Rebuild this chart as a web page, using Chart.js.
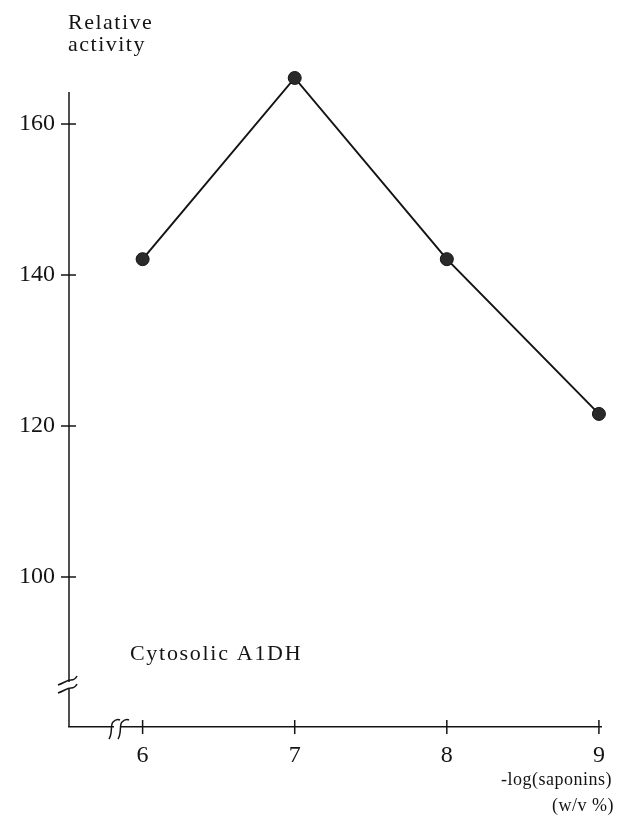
<!DOCTYPE html>
<html>
<head>
<meta charset="utf-8">
<script src="https://cdn.jsdelivr.net/npm/chart.js@4"></script>
<style>
  html, body { margin: 0; padding: 0; background: #fff; }
  #wrap { width: 619px; height: 827px; }
</style>
</head>
<body>
<div id="wrap"><canvas id="c" width="619" height="827"></canvas></div>
<script>
const concentrations = [6, 7, 8, 9];
const relativeActivity = [142.1, 166.1, 142.1, 121.6];
const yTickValues = [100, 120, 140, 160];
const xTickValues = [6, 7, 8, 9];
const yTitleLines = ['Relative', 'activity'];
const xTitleLines = ['-log(saponins)', '(w/v %)'];
const panelLabel = 'Cytosolic A1DH';

const Y_AXIS_TOP = 164.24; // where the drawn y-axis line ends
const INK = '#141414';
const SERIF = '"Liberation Serif", "DejaVu Serif", serif';

const decor = {
  id: 'decor',
  beforeDatasetsDraw(chart) {
    const ctx = chart.ctx;
    const xs = chart.scales.x, ys = chart.scales.y;
    const ax = ys.right, ay = xs.top;
    ctx.save();
    ctx.strokeStyle = INK;
    ctx.lineWidth = 1.5;
    ctx.beginPath();
    ctx.moveTo(ax, ys.getPixelForValue(Y_AXIS_TOP));
    ctx.lineTo(ax, ay);
    ctx.stroke();
    ctx.restore();
  },
  afterDraw(chart) {
    const ctx = chart.ctx;
    const xs = chart.scales.x, ys = chart.scales.y;
    const ax = ys.right, ay = xs.top;
    const topY = ys.getPixelForValue(Y_AXIS_TOP);
    ctx.save();
    ctx.strokeStyle = INK;
    ctx.lineWidth = 1.5;
    // tick marks crossing axes
    yTickValues.forEach(v => {
      const py = ys.getPixelForValue(v);
      ctx.beginPath(); ctx.moveTo(ax - 8, py); ctx.lineTo(ax + 7, py); ctx.stroke();
    });
    xTickValues.forEach(v => {
      const px = xs.getPixelForValue(v);
      ctx.beginPath(); ctx.moveTo(px, ay - 7); ctx.lineTo(px, ay + 7); ctx.stroke();
    });
    // axis breaks: erase gaps
    ctx.fillStyle = '#fff';
    const by = ay - 42;
    ctx.fillRect(ax - 3, by - 3, 6, 7);
    const bx = ax + 47;
    ctx.fillRect(bx - 2, ay - 3, 6, 6);
    // y-axis break strokes
    [by - 4, by + 4].forEach(yy => {
      ctx.beginPath();
      ctx.moveTo(ax - 11, yy + 4);
      ctx.bezierCurveTo(ax - 5, yy + 2, ax - 2, yy - 1, ax + 2, yy - 1);
      ctx.bezierCurveTo(ax + 5, yy - 1, ax + 7, yy - 3, ax + 8, yy - 5);
      ctx.stroke();
    });
    // x-axis break strokes
    [bx - 4, bx + 5].forEach(xx => {
      ctx.beginPath();
      ctx.moveTo(xx - 3, ay + 12);
      ctx.bezierCurveTo(xx + 1, ay + 6, xx - 2, ay - 2, xx + 1, ay - 5);
      ctx.bezierCurveTo(xx + 3, ay - 7, xx + 6, ay - 8, xx + 8, ay - 7);
      ctx.stroke();
    });
    // texts
    ctx.fillStyle = INK;
    ctx.font = '22px ' + SERIF;
    ctx.textBaseline = 'middle';
    ctx.letterSpacing = '1.5px';
    ctx.textAlign = 'left';
    ctx.fillText(yTitleLines[0], ax - 1, topY - 69);
    ctx.fillText(yTitleLines[1], ax - 1, topY - 47);
    ctx.letterSpacing = '1.7px';
    ctx.fillText(panelLabel, ax + 61, ay - 73);
    ctx.letterSpacing = '0.5px';
    ctx.font = '18px ' + SERIF;
    ctx.textAlign = 'right';
    ctx.fillText(xTitleLines[0], 612, ay + 53);
    ctx.textAlign = 'center';
    ctx.fillText(xTitleLines[1], 583, ay + 79);
    ctx.restore();
  }
};

new Chart(document.getElementById('c'), {
  type: 'line',
  data: {
    datasets: [{
      data: concentrations.map((x, i) => ({ x: x, y: relativeActivity[i] })),
      borderColor: INK,
      borderWidth: 2,
      backgroundColor: '#222',
      pointBackgroundColor: '#2a2a2a',
      pointBorderColor: INK,
      pointBorderWidth: 1,
      pointRadius: 6.5,
      tension: 0,
      clip: false
    }]
  },
  options: {
    responsive: false,
    animation: false,
    devicePixelRatio: 1,
    layout: { padding: { top: 64, right: 14, left: 0, bottom: 0 } },
    plugins: { legend: { display: false }, tooltip: { enabled: false }, title: { display: false } },
    scales: {
      x: {
        type: 'linear',
        min: 5.516,
        max: 9.02,
        afterFit(s) { s.height = 100; },
        afterBuildTicks(s) { s.ticks = xTickValues.map(v => ({ value: v })); },
        grid: { display: false, drawTicks: false },
        border: { display: true, color: INK, width: 1.5 },
        ticks: { padding: 14, color: INK, font: { family: SERIF, size: 24 }, maxRotation: 0, autoSkip: false }
      },
      y: {
        type: 'linear',
        min: 80.13,
        max: 167.95,
        afterFit(s) { s.width = 69; },
        afterBuildTicks(s) { s.ticks = yTickValues.map(v => ({ value: v })); },
        grid: { display: false, drawTicks: false },
        border: { display: false },
        ticks: { padding: 14, color: INK, font: { family: SERIF, size: 24 }, autoSkip: false }
      }
    }
  },
  plugins: [decor]
});
</script>
</body>
</html>
